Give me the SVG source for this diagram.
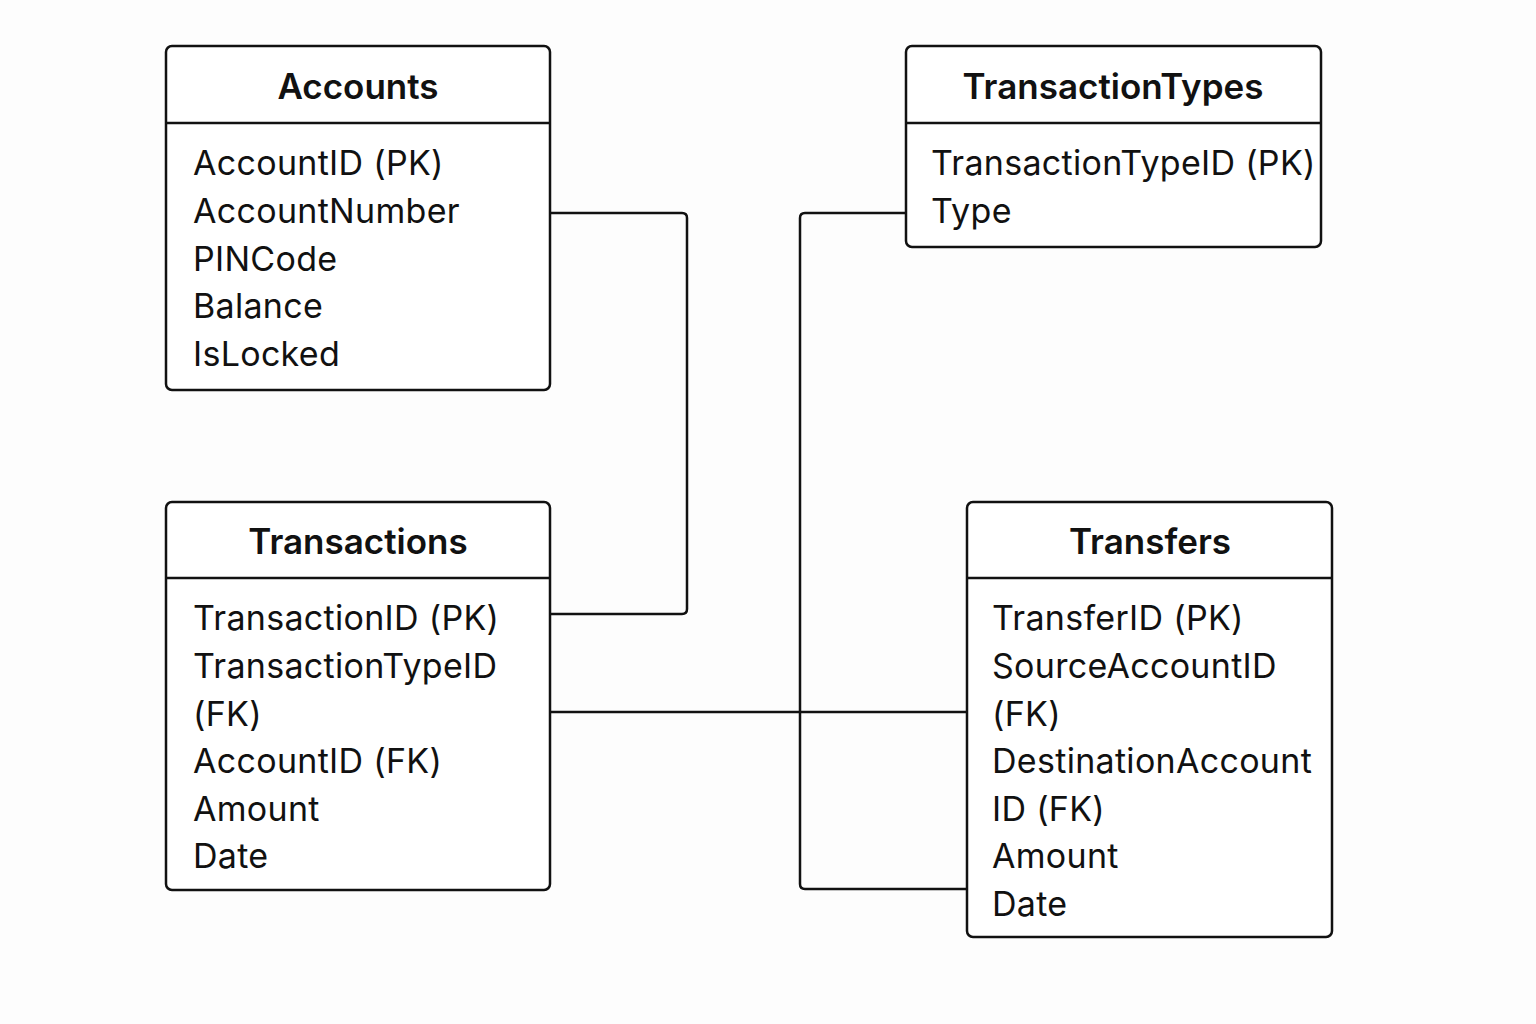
<svg xmlns="http://www.w3.org/2000/svg" width="1536" height="1024" viewBox="0 0 1536 1024">
<style>
.box{fill:#fff;stroke:#111;stroke-width:2.5}
.sep{stroke:#111;stroke-width:2.5}
.title{font-family:Inter,"Liberation Sans",sans-serif;font-size:35px;font-weight:600;fill:#111;text-anchor:middle}
.attr{font-family:Inter,"Liberation Sans",sans-serif;font-size:34px;font-weight:400;letter-spacing:0.3px;fill:#111}
.conn{fill:none;stroke:#111;stroke-width:2.5;stroke-linejoin:round}
</style>
<rect width="1536" height="1024" fill="#fdfdfd"/>
<g id="connectors">
<path class="conn" d="M550,213 H682 Q687,213 687,218 V609 Q687,614 682,614 H550"/>
<path class="conn" d="M906,213 H805 Q800,213 800,218 V884 Q800,889 805,889 H967"/>
<path class="conn" d="M550,712 H967"/>
</g>
<g id="accounts">
<rect class="box" x="166" y="46" width="384" height="344" rx="6"/>
<line class="sep" x1="166" y1="123" x2="550" y2="123"/>
<text class="title" x="358" y="99">Accounts</text>
<text class="attr" x="193" y="175">AccountID (PK)</text>
<text class="attr" x="193" y="223">AccountNumber</text>
<text class="attr" x="193" y="271">PINCode</text>
<text class="attr" x="193" y="318">Balance</text>
<text class="attr" x="193" y="366">IsLocked</text>
</g>
<g id="transactiontypes">
<rect class="box" x="906" y="46" width="415" height="201" rx="6"/>
<line class="sep" x1="906" y1="123" x2="1321" y2="123"/>
<text class="title" x="1113" y="99">TransactionTypes</text>
<text class="attr" x="931" y="175">TransactionTypeID (PK)</text>
<text class="attr" x="931" y="223">Type</text>
</g>
<g id="transactions">
<rect class="box" x="166" y="502" width="384" height="388" rx="6"/>
<line class="sep" x1="166" y1="578" x2="550" y2="578"/>
<text class="title" x="358" y="554">Transactions</text>
<text class="attr" x="193" y="630">TransactionID (PK)</text>
<text class="attr" x="193" y="678">TransactionTypeID</text>
<text class="attr" x="193" y="726">(FK)</text>
<text class="attr" x="193" y="773">AccountID (FK)</text>
<text class="attr" x="193" y="821">Amount</text>
<text class="attr" x="193" y="868">Date</text>
</g>
<g id="transfers">
<rect class="box" x="967" y="502" width="365" height="435" rx="6"/>
<line class="sep" x1="967" y1="578" x2="1332" y2="578"/>
<text class="title" x="1150" y="554">Transfers</text>
<text class="attr" x="992" y="630">TransferID (PK)</text>
<text class="attr" x="992" y="678">SourceAccountID</text>
<text class="attr" x="992" y="726">(FK)</text>
<text class="attr" x="992" y="773">DestinationAccount</text>
<text class="attr" x="992" y="821">ID (FK)</text>
<text class="attr" x="992" y="868">Amount</text>
<text class="attr" x="992" y="916">Date</text>
</g>
</svg>
